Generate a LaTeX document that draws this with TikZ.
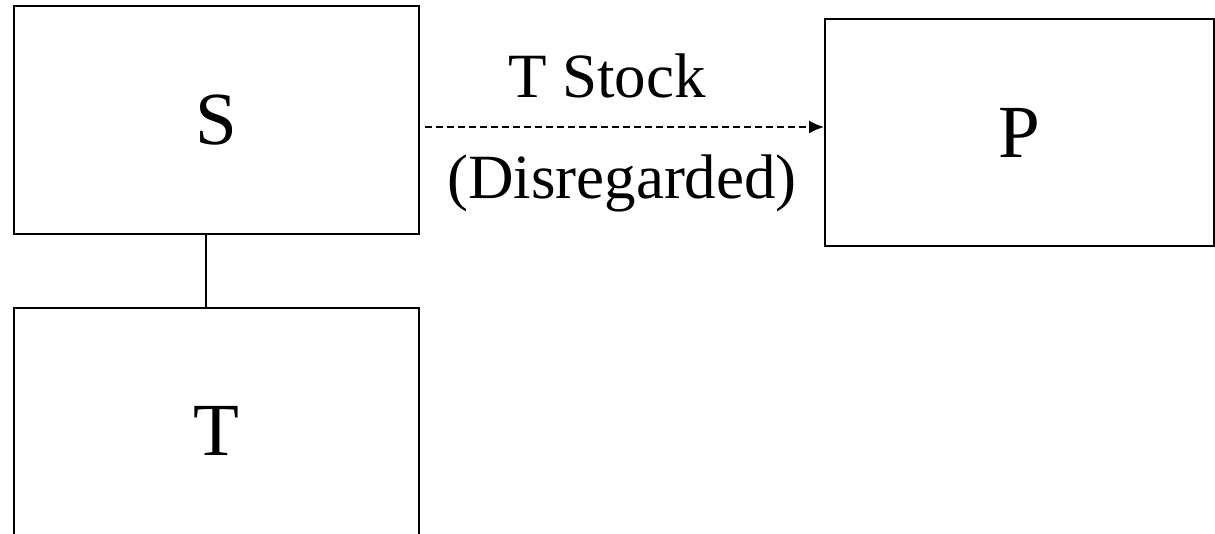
\documentclass[tikz,border=0pt]{standalone}
\usepackage{fontspec}
\setmainfont{Liberation Serif}
\usetikzlibrary{arrows.meta}

\tikzset{
  entity/.style={draw=black, line width=2pt, minimum width=405pt, minimum height=228pt, inner sep=0pt, font=\fontsize{75}{90}\selectfont},
  lbl/.style={anchor=base, inner sep=0pt, font=\fontsize{63}{76}\selectfont}
}

\begin{document}
\begin{tikzpicture}[x=1pt,y=-1pt]
         \useasboundingbox (0,0) rectangle (1215,533);
         \node[entity] (S) at (216.5,120) {S};
         \node[entity, minimum height=246pt] (T) at (216.5,431) {T};
         \node[entity, minimum width=389pt, minimum height=227pt] (P) at (1019.5,132.5) {P};
         % link between S and T
         \draw[line width=2pt] ([xshift=-11pt]S.south) -- ([xshift=-11pt]T.north);
         % disregarded stock
         \coordinate (a) at (425,127);
         \draw[line width=1.5pt, dash pattern=on 7pt off 4pt, -{Latex[length=15pt,width=13pt]}] (a) -- (P.west |- a);
         \node[lbl] (st) at (607,97) {T Stock};
         \node[lbl] (dis) at (622,198) {(Disregarded)};
      \end{tikzpicture}
\end{document}
